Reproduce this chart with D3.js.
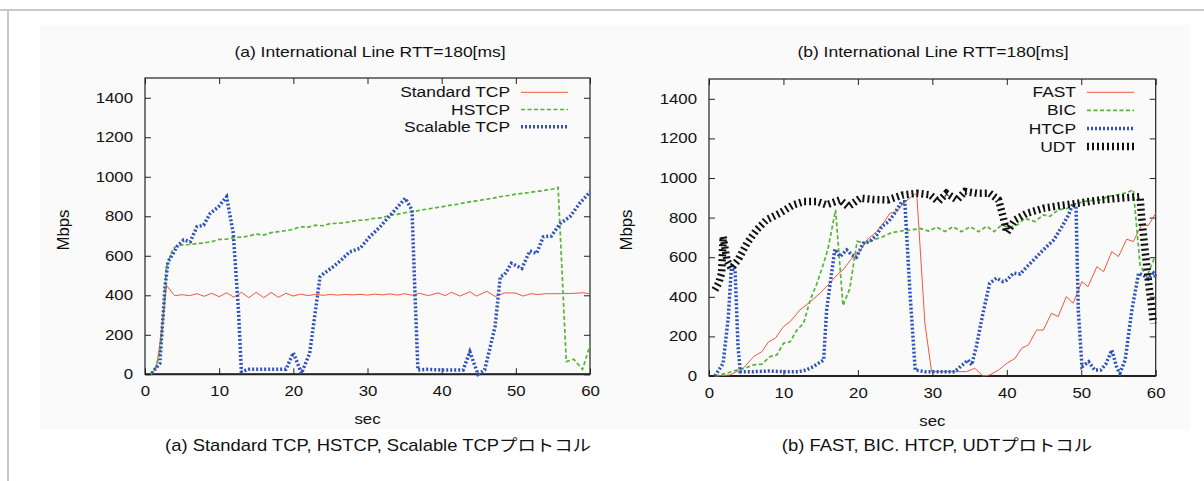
<!DOCTYPE html>
<html>
<head>
<meta charset="utf-8">
<script src="https://cdn.jsdelivr.net/npm/d3@7"></script>
<style>
  body { margin: 0; background: #fff; }
  svg text { font-family: "Liberation Sans", Arial, "Noto Sans CJK JP", sans-serif; fill: #111; }
</style>
</head>
<body>
<div id="chart"></div>
<script>
const W = 1204, H = 481;

// ---- data: [sec, Mbps] ----
const stdTCP = [[0.8,0],[1.5,30],[2,150],[2.9,450],[4,398],[5,403],[6,398],[7,408],[8,395],[9,410],[10,393],[11,413],[12,390],[13,415],[14,388],[15,415],[16,388],[17,414],[18,390],[19,410],[20,396],[21,406],[22,398],[23,405],[24,400],[25,404],[26,401],[27,404],[28,402],[29,405],[30,401],[31,406],[32,402],[33,407],[34,401],[35,408],[36,400],[37,410],[38.2,398],[39.5,412],[40.5,398],[41.3,415],[42.5,396],[43.8,418],[44.7,396],[46.1,420],[47.2,394],[48.5,412],[49.9,412],[51,396],[52,408],[53,404],[54,408],[56,408],[58,410],[59,413],[60,408]];
const hstcp = [[0.8,0],[1.5,40],[2,110],[2.5,300],[2.9,545],[3.8,638],[4.7,654],[6,657],[7,662],[8,665],[9,672],[10,683],[11,684],[12,692],[13,694],[14,700],[15,710],[16,705],[17,717],[18,722],[19,727],[20,734],[20.9,747],[22,745],[23,755],[24,752],[25,763],[26,764],[27,768],[28,775],[29,780],[30,783],[31,790],[32,792],[33,806],[34,810],[35,818],[36,822],[37,830],[38,836],[39,842],[40,848],[41,855],[42,860],[43,868],[44,874],[45,880],[46,886],[47,892],[48,900],[49,905],[50,912],[51,916],[52,922],[53,926],[54,932],[55,938],[55.7,946],[56.8,64],[57.8,76],[59,25],[60,148]];
const scalable = [[0.9,5],[2,55],[2.7,443],[3.1,570],[3.8,612],[4.3,646],[5.2,680],[6.1,671],[7,747],[7.9,755],[8.8,815],[9.9,848],[11,899],[11.9,714],[12.6,325],[13,13],[14,25],[16,25],[18,25],[19,25],[20,109],[21.1,5],[22.2,106],[23.6,494],[23.8,502],[25.4,545],[26.5,580],[27.6,620],[29,638],[30.3,696],[31.7,747],[33.5,823],[35.1,891],[36,831],[36.4,410],[36.8,22],[38,25],[40,22],[42.9,22],[43.8,114],[44.9,0],[45.8,22],[47.2,241],[47.9,494],[48.5,505],[49.4,562],[50.8,536],[51.9,625],[52.8,612],[53.7,696],[54.8,700],[56,764],[57.3,798],[58.6,865],[60,924]];

const fast = [[0.8,0],[2.8,5],[4.6,39],[6,98],[7.1,123],[8,173],[8.9,190],[10,249],[10.9,275],[12.2,333],[13.6,375],[14.9,418],[16,460],[17.2,510],[18,536],[19.2,595],[20.1,620],[21.2,687],[22.5,729],[23.4,771],[24.3,822],[25.2,830],[26.1,872],[27.2,906],[27.9,923],[29,266],[29.9,22],[31,22],[33,22],[34.6,22],[35.7,39],[36.8,0],[37.7,5],[38.9,30],[40,64],[41.1,89],[42,140],[42.9,157],[44,232],[44.9,232],[46,317],[46.9,300],[48,401],[48.9,367],[50.1,477],[50.9,451],[52.1,552],[53,527],[54.1,628],[55,603],[56.1,691],[57,679],[58.1,763],[59,760],[60,822]];
const bic = [[0.8,0],[2.4,14],[3.7,30],[4.8,39],[6,56],[7.1,60],[8.2,98],[9.1,106],[10,165],[10.9,173],[11.8,232],[12.7,266],[13.6,384],[14.5,468],[15.4,569],[16,645],[17,839],[18,355],[18.9,440],[19.9,680],[21,671],[22.1,687],[23.2,701],[24.5,724],[26.1,734],[27.2,738],[28.4,745],[29.5,732],[30.6,752],[31.7,730],[32.8,754],[33.9,729],[35.1,754],[36.2,729],[37.3,756],[38.3,729],[39.3,763],[40,755],[40.7,754],[41.5,765],[42.4,797],[43.8,780],[44.9,814],[45.8,806],[46.9,839],[48,845],[49.2,864],[50.1,880],[51,885],[52.5,889],[53.5,905],[54.8,915],[56,925],[57,940],[57.9,560],[58.8,500],[59.9,603]];
const htcp = [[0.8,0],[1.9,64],[2.6,300],[3,544],[3.5,536],[3.9,148],[4.2,22],[6,22],[8,25],[10,22],[12,22],[13,30],[14,47],[15.4,81],[15.8,333],[16.9,640],[17.6,603],[18.5,637],[19.2,611],[19.8,600],[20.7,670],[21.6,679],[22.5,712],[23.2,754],[24.1,780],[24.8,814],[25.9,881],[26.3,880],[27,418],[27.7,30],[29,22],[31,22],[33,22],[34.8,81],[35.3,56],[35.9,148],[36.8,317],[37.7,468],[38.6,494],[39.5,477],[40,485],[40.9,519],[41.8,515],[42.7,552],[43.6,586],[44.9,637],[46.3,687],[47.4,754],[48.3,814],[48.9,872],[49.3,860],[49.6,333],[50.1,47],[51,72],[51.8,30],[52.6,30],[53.3,60],[54.1,131],[54.8,39],[55.2,14],[55.9,81],[56.8,333],[57.7,519],[58.3,510],[59,490],[59.7,519],[60,500]];
const udt = [[0.8,435],[1.3,470],[1.7,519],[1.9,704],[2.4,586],[3,544],[3.9,586],[5.1,670],[6.4,738],[7.7,788],[9.5,822],[11.3,864],[12.7,881],[14.5,881],[15.8,864],[17.6,889],[18.7,855],[20.3,898],[22,892],[24,889],[26.1,915],[27.9,923],[29.7,915],[30.8,881],[31.9,923],[33.3,889],[34.4,932],[36,923],[37.7,923],[38.9,889],[39.5,805],[40,725],[41.1,788],[42.7,822],[44.9,847],[47,860],[49.4,872],[52.5,889],[55.2,898],[57.9,906],[58.1,805],[58.8,552],[59.7,266]];

const xTicks = [0, 10, 20, 30, 40, 50, 60];
const yTicks = [0, 200, 400, 600, 800, 1000, 1200, 1400];

const styles = {
  red:   {stroke: "#f0583a", width: 1,   dash: null},
  green: {stroke: "#56b535", width: 1.7, dash: "4,2.5"},
  blue:  {stroke: "#2d52b8", width: 3.5, dash: "2,2"},
  black: {stroke: "#111",    width: 7.5, dash: "2,3"}
};

const panels = [
  { left: 145, top: 78, width: 445, height: 296.3,
    title: "(a) International Line RTT=180[ms]", titleX: 370,
    caption: "(a) Standard TCP, HSTCP, Scalable TCPプロトコル", captionX: 378,
    mbpsX: 64, legendRight: 510, legendY: 92.3, legendStep: 17.2,
    series: [
      {name: "Standard TCP", data: stdTCP, style: "red"},
      {name: "HSTCP", data: hstcp, style: "green"},
      {name: "Scalable TCP", data: scalable, style: "blue"}
    ]},
  { left: 709, top: 79, width: 446.7, height: 297,
    title: "(b) International Line RTT=180[ms]", titleX: 933,
    caption: "(b) FAST, BIC. HTCP, UDTプロトコル", captionX: 937,
    mbpsX: 627, legendRight: 1076, legendY: 92.3, legendStep: 18.1,
    series: [
      {name: "FAST", data: fast, style: "red"},
      {name: "BIC", data: bic, style: "green"},
      {name: "HTCP", data: htcp, style: "blue"},
      {name: "UDT", data: udt, style: "black"}
    ]}
];

const K = 1.2; // horizontal text stretch of the source picture

const svg = d3.select("#chart").append("svg")
  .attr("width", W).attr("height", H);

// page frame
svg.append("rect").attr("x", 40).attr("y", 25).attr("width", 1150).attr("height", 404)
  .attr("fill", "#fafafa");
svg.append("line").attr("x1", 0).attr("x2", W).attr("y1", 10).attr("y2", 10)
  .attr("stroke", "#c8c8c8").attr("stroke-width", 2);
svg.append("line").attr("x1", 8).attr("x2", 8).attr("y1", 10).attr("y2", H)
  .attr("stroke", "#c8c8c8").attr("stroke-width", 2);

function label(g, txt, x, y, size, anchor, k, rot) {
  g.append("text")
    .attr("transform", `translate(${x},${y})` + (rot ? ` rotate(${rot})` : "") + ` scale(${k},1)`)
    .attr("text-anchor", anchor)
    .attr("font-size", size)
    .text(txt);
}

function applyStyle(path, s) {
  path.attr("fill", "none")
    .attr("stroke", s.stroke)
    .attr("stroke-width", s.width)
    .attr("stroke-dasharray", s.dash);
}

panels.forEach((p, i) => {
  const x = d3.scaleLinear().domain([0, 60]).range([0, p.width]);
  const y = d3.scaleLinear().domain([0, 1500]).range([p.height, 0]);

  const g = svg.append("g").attr("transform", `translate(${p.left},${p.top})`);

  // axes with inward ticks (gnuplot style)
  const ax = g.append("g").attr("transform", `translate(0,${p.height})`)
    .call(d3.axisBottom(x).tickValues(xTicks).tickSize(-6).tickPadding(12));
  const ay = g.append("g")
    .call(d3.axisLeft(y).tickValues(yTicks).tickSize(-6).tickPadding(10).tickFormat(d3.format("d")));
  g.append("g").call(d3.axisTop(x).tickValues(xTicks).tickSize(-6).tickFormat(""));
  g.append("g").attr("transform", `translate(${p.width},0)`)
    .call(d3.axisRight(y).tickValues(yTicks).tickSize(-6).tickFormat(""));

  g.selectAll(".domain").remove();
  g.selectAll(".tick line").attr("stroke", "#222");
  [ax, ay].forEach(a => a.selectAll("text")
    .attr("font-size", 14)
    .attr("font-family", "'Liberation Sans', Arial, sans-serif")
    .attr("fill", "#111")
    .attr("transform", `scale(${K},1)`));

  g.append("rect").attr("width", p.width).attr("height", p.height)
    .attr("fill", "none").attr("stroke", "#222").attr("stroke-width", 1.2);
  g.append("line").attr("x1", 0).attr("x2", p.width)
    .attr("y1", p.height).attr("y2", p.height)
    .attr("stroke", "#222").attr("stroke-width", 2);

  const line = d3.line().x(d => x(d[0])).y(d => y(d[1]));

  p.series.forEach(s => {
    applyStyle(g.append("path").datum(s.data).attr("d", line), styles[s.style]);
  });

  // legend
  p.series.forEach((s, j) => {
    const ly = p.legendY + j * p.legendStep;
    label(svg, s.name, p.legendRight, ly + 5, 14.5, "end", K, 0);
    applyStyle(svg.append("path")
      .attr("d", `M${p.legendRight + 11},${ly}H${p.legendRight + 58}`), styles[s.style]);
  });

  label(svg, p.title, p.titleX, 57, 14, "middle", 1.25, 0);
  label(svg, "sec", p.left + p.width / 2, 424 + i * 2, 14, "middle", K, 0);
  label(svg, "Mbps", p.mbpsX + 5, 230, 16, "middle", 1.05, -90);
  label(svg, p.caption, p.captionX, 451, 16, "middle", 1.15, 0);
});
</script>
</body>
</html>
